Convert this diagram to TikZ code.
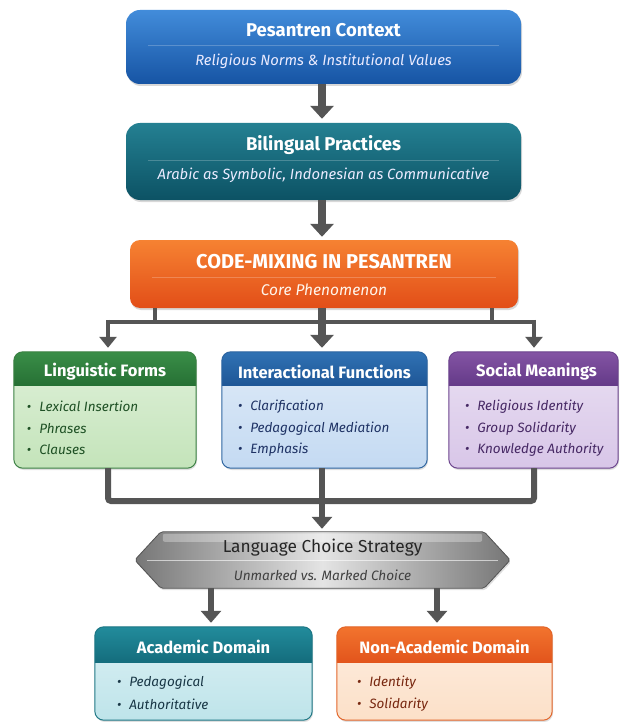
\documentclass[tikz,border=0pt]{standalone}
\usepackage{fontspec}
\setmainfont{Fira Sans}
\usetikzlibrary{arrows.meta,shadows,calc}
\definecolor{blueT}{RGB}{66,140,218}
\definecolor{blueB}{RGB}{22,84,164}
\definecolor{tealT}{RGB}{36,128,146}
\definecolor{tealB}{RGB}{12,82,100}
\definecolor{orT}{RGB}{246,130,50}
\definecolor{orB}{RGB}{226,78,24}
\definecolor{arrowgray}{RGB}{85,85,85}
\definecolor{grnH}{RGB}{58,142,72}
\definecolor{grnHB}{RGB}{38,112,52}
\definecolor{grnBody}{RGB}{196,228,186}
\definecolor{grnBorder}{RGB}{58,128,66}
\definecolor{grnText}{RGB}{30,80,36}
\definecolor{iaH}{RGB}{48,114,180}
\definecolor{iaHB}{RGB}{30,86,150}
\definecolor{iaBody}{RGB}{196,218,242}
\definecolor{iaBorder}{RGB}{44,100,160}
\definecolor{iaText}{RGB}{30,50,100}
\definecolor{smH}{RGB}{132,84,164}
\definecolor{smHB}{RGB}{100,58,136}
\definecolor{smBody}{RGB}{216,198,232}
\definecolor{smBorder}{RGB}{106,66,140}
\definecolor{smText}{RGB}{70,40,100}
\definecolor{adH}{RGB}{34,140,156}
\definecolor{adHB}{RGB}{20,108,124}
\definecolor{adBody}{RGB}{190,228,234}
\definecolor{adBorder}{RGB}{28,118,132}
\definecolor{adText}{RGB}{25,55,70}
\definecolor{ndH}{RGB}{242,116,46}
\definecolor{ndHB}{RGB}{226,84,28}
\definecolor{ndBody}{RGB}{252,224,200}
\definecolor{ndBorder}{RGB}{226,100,40}
\definecolor{ndText}{RGB}{120,40,16}
\definecolor{hexEdge}{RGB}{118,118,118}
\definecolor{hexMid}{RGB}{228,228,228}
\newcommand{\bpt}{\textbullet\hspace{8pt}}
\begin{document}
\begin{tikzpicture}[x=1pt,y=-1pt,
  mainbox/.style={rectangle, rounded corners=14pt, inner sep=0pt,
    drop shadow={shadow xshift=1pt,shadow yshift=-2pt,opacity=0.3}},
  panel/.style={rectangle, rounded corners=9pt, inner sep=0pt,
    drop shadow={shadow xshift=1pt,shadow yshift=-2pt,opacity=0.25}},
  maintitle/.style={text=white, font=\fontsize{18.5}{21}\selectfont\bfseries, inner sep=0pt},
  mainsub/.style={text=white!92!blue, font=\fontsize{14.8}{17}\selectfont\itshape, inner sep=0pt},
  divider/.style={draw=white, opacity=0.22, line width=0.8pt},
  ptitle/.style={text=white, font=\fontsize{16.5}{19}\selectfont\bfseries, inner sep=0pt},
  bul/.style={anchor=west, font=\fontsize{13.5}{16}\selectfont\itshape, inner sep=0pt},
  bigarrow/.style={draw=arrowgray, line width=8pt, -{Triangle[width=23pt,length=13pt]}},
  midarrow/.style={draw=arrowgray, line width=6pt, -{Triangle[width=20pt,length=12pt]}},
  busline/.style={draw=arrowgray, line width=4.5pt},
  sidearrow/.style={draw=arrowgray, line width=4.5pt, -{Triangle[width=17pt,length=11pt]}},
  collector/.style={draw=arrowgray, line width=6pt, rounded corners=3pt},
]
\useasboundingbox[fill=white] (0,0) rectangle (620,722);
\clip (0,0) rectangle (620,722);

% ---- top boxes
\node[mainbox, top color=blueT, bottom color=blueB, minimum width=395pt, minimum height=74pt] (pc) at (323.5,47) {};
\draw[divider] ($(pc.west)+(22,-2)$) -- ($(pc.east)+(-22,-2)$);
\node[maintitle] (pct) at (323.5,30) {Pesantren Context};
\node[mainsub] (pcs) at (323.5,61) {Religious Norms \& Institutional Values};

\node[mainbox, top color=tealT, bottom color=tealB, minimum width=395pt, minimum height=77pt] (bp) at (323.5,161.5) {};
\draw[divider] ($(bp.west)+(22,-1)$) -- ($(bp.east)+(-22,-1)$);
\node[maintitle] (bpt) at (323.5,145) {Bilingual Practices};
\node[mainsub] (bps) at (323.5,175) {Arabic as Symbolic, Indonesian as Communicative};

\node[mainbox, rounded corners=10pt, top color=orT, bottom color=orB, minimum width=388pt, minimum height=68pt] (cm) at (324,274) {};
\draw[divider] ($(cm.west)+(22,3)$) -- ($(cm.east)+(-22,3)$);
\node[maintitle, font=\fontsize{20}{23}\selectfont\bfseries] (cmt) at (324,262) {CODE-MIXING IN PESANTREN};
\node[mainsub, text=white!92!orange, font=\fontsize{15.5}{18}\selectfont\itshape] (cms) at (324,290) {Core Phenomenon};

\draw[bigarrow] (pc.south -| 322,0) -- ($(bp.north -| 322,0)+(0,-4)$);
\draw[bigarrow] (bp.south -| 322,0) -- ($(cm.north -| 322,0)+(0,-3)$);

% ---- three panels
% Linguistic Forms
\node[panel, top color=grnBody!55!white, bottom color=grnBody, minimum width=182pt, minimum height=116pt] (lf) at (105,410) {};
\path[top color=grnH, bottom color=grnHB] ($(lf.north west)+(0,34)$) [rounded corners=9pt] -- (lf.north west) -- (lf.north east) [sharp corners] -- ($(lf.north east)+(0,34)$) -- cycle;
\draw[grnBorder, line width=1pt, rounded corners=9pt] (lf.south west) rectangle (lf.north east);
\node[ptitle] (lft) at ($(lf.north)+(0,20)$) {Linguistic Forms};
\node[bul, text=grnText] (lf1) at ($(lf.north west)+(13,55)$) {\bpt Lexical Insertion};
\node[bul, text=grnText] (lf2) at ($(lf.north west)+(13,76.5)$) {\bpt Phrases};
\node[bul, text=grnText] (lf3) at ($(lf.north west)+(13,98)$) {\bpt Clauses};

% Interactional Functions
\node[panel, top color=iaBody!55!white, bottom color=iaBody, minimum width=205pt, minimum height=116pt] (ia) at (324.5,410) {};
\path[top color=iaH, bottom color=iaHB] ($(ia.north west)+(0,34)$) [rounded corners=9pt] -- (ia.north west) -- (ia.north east) [sharp corners] -- ($(ia.north east)+(0,34)$) -- cycle;
\draw[iaBorder, line width=1pt, rounded corners=9pt] (ia.south west) rectangle (ia.north east);
\node[ptitle] (iat) at ($(ia.north)+(0,20)$) {Interactional Functions};
\node[bul, text=iaText] (ia1) at ($(ia.north west)+(16,55)$) {\bpt Clarification};
\node[bul, text=iaText] (ia2) at ($(ia.north west)+(16,76.5)$) {\bpt Pedagogical Mediation};
\node[bul, text=iaText] (ia3) at ($(ia.north west)+(16,98)$) {\bpt Emphasis};

% Social Meanings
\node[panel, top color=smBody!55!white, bottom color=smBody, minimum width=169pt, minimum height=116pt] (sm) at (533.5,410) {};
\path[top color=smH, bottom color=smHB] ($(sm.north west)+(0,34)$) [rounded corners=9pt] -- (sm.north west) -- (sm.north east) [sharp corners] -- ($(sm.north east)+(0,34)$) -- cycle;
\draw[smBorder, line width=1pt, rounded corners=9pt] (sm.south west) rectangle (sm.north east);
\node[ptitle] (smt) at ($(sm.north)+(3,20)$) {Social Meanings};
\node[bul, text=smText] (sm1) at ($(sm.north west)+(16,55)$) {\bpt Religious Identity};
\node[bul, text=smText] (sm2) at ($(sm.north west)+(16,76.5)$) {\bpt Group Solidarity};
\node[bul, text=smText] (sm3) at ($(sm.north west)+(16,98)$) {\bpt Knowledge Authority};

% ---- branching from code-mixing
\coordinate (busL) at (108,322);
\coordinate (busR) at (534,322);
\draw[busline] (busL) -- (busR);
\draw[busline] (cm.south -| 155,0) -- (155,322);
\draw[busline] (cm.south -| 492,0) -- (492,322);
\draw[sidearrow] ($(busL)+(0,-2.25)$) -- ($(lf.north -| busL)+(0,-4)$);
\draw[sidearrow] ($(busR)+(0,-2.25)$) -- ($(sm.north -| busR)+(0,-4)$);
\draw[bigarrow] (cm.south -| 322,0) -- ($(ia.north -| 322,0)+(0,-4)$);

% ---- Language choice strategy
\node[inner sep=0pt, minimum width=375pt, minimum height=56pt] (lcs) at (322.5,560) {};
\path[left color=hexEdge, right color=hexEdge, middle color=hexMid, draw=hexEdge!70!black, line width=0.8pt, rounded corners=2pt,
  drop shadow={shadow xshift=1pt,shadow yshift=-2pt,opacity=0.25}]
  (lcs.west) -- ($(lcs.north west)+(26,0)$) -- ($(lcs.north east)+(-26,0)$) -- (lcs.east)
  -- ($(lcs.south east)+(-26,0)$) -- ($(lcs.south west)+(26,0)$) -- cycle;
\fill[white, opacity=0.3, rounded corners=2pt] ($(lcs.north west)+(28,2)$) rectangle ($(lcs.north east)+(-28,10)$);
\draw[white, opacity=0.6, line width=0.8pt] ($(lcs.west)+(12,0)$) -- ($(lcs.east)+(-12,0)$);
\node[inner sep=0pt, text=black!85, font=\fontsize{17.3}{20}\selectfont] (lcst) at (322.5,548) {Language Choice Strategy};
\node[inner sep=0pt, text=black!75, font=\fontsize{13.6}{16}\selectfont\itshape] (lcss) at (322.5,575) {Unmarked vs. Marked Choice};

% ---- collector
\draw[collector] (lf.south -| busL) -- (108,501) -- (534,501) -- (sm.south -| busR);
\draw[midarrow] (ia.south -| 322,0) -- ($(lcs.north -| 322,0)+(0,-3)$);

% ---- bottom panels
\node[panel, top color=adBody!55!white, bottom color=adBody, minimum width=217pt, minimum height=93pt] (ad) at (203.5,673.5) {};
\path[top color=adH, bottom color=adHB] ($(ad.north west)+(0,36)$) [rounded corners=9pt] -- (ad.north west) -- (ad.north east) [sharp corners] -- ($(ad.north east)+(0,36)$) -- cycle;
\draw[adBorder, line width=1pt, rounded corners=9pt] (ad.south west) rectangle (ad.north east);
\node[ptitle] (adt) at ($(ad.north)+(0,20)$) {Academic Domain};
\node[bul, text=adText] (ad1) at ($(ad.north west)+(22,56)$) {\bpt Pedagogical};
\node[bul, text=adText] (ad2) at ($(ad.north west)+(22,78)$) {\bpt Authoritative};

\node[panel, top color=ndBody!55!white, bottom color=ndBody, minimum width=215pt, minimum height=93pt] (nd) at (444.5,673.5) {};
\path[top color=ndH, bottom color=ndHB] ($(nd.north west)+(0,36)$) [rounded corners=9pt] -- (nd.north west) -- (nd.north east) [sharp corners] -- ($(nd.north east)+(0,36)$) -- cycle;
\draw[ndBorder, line width=1pt, rounded corners=9pt] (nd.south west) rectangle (nd.north east);
\node[ptitle] (ndt) at ($(nd.north)+(0,20)$) {Non-Academic Domain};
\node[bul, text=ndText] (nd1) at ($(nd.north west)+(20,56)$) {\bpt Identity};
\node[bul, text=ndText] (nd2) at ($(nd.north west)+(20,78)$) {\bpt Solidarity};

\draw[midarrow] (lcs.south -| 211,0) -- ($(ad.north -| 211,0)+(0,-4)$);
\draw[midarrow] (lcs.south -| 437,0) -- ($(nd.north -| 437,0)+(0,-4)$);
\end{tikzpicture}
\end{document}
